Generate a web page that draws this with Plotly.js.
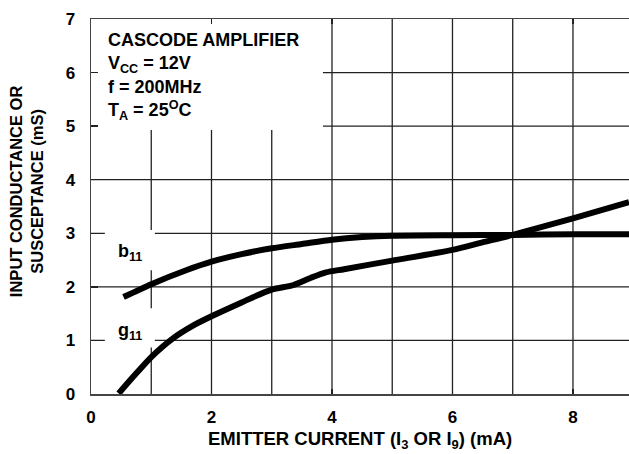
<!DOCTYPE html>
<html>
<head>
<meta charset="utf-8">
<script src="https://cdn.plot.ly/plotly-3.0.1.min.js"></script>
<style>html,body{margin:0;padding:0;background:#fff;}#chart{width:629px;height:454px;}</style>
</head>
<body>
<div id="chart"></div>
<script>
// Data
var b11X = [0.54, 1.0, 1.58, 2.0, 2.5, 3.0, 3.5, 4.0, 4.5, 5.0, 6.0, 7.0, 8.0, 8.93];
var b11Y = [1.81, 2.05, 2.31, 2.47, 2.61, 2.72, 2.80, 2.88, 2.93, 2.955, 2.965, 2.97, 2.98, 2.98];
var g11X = [0.46, 0.7, 1.0, 1.35, 1.7, 2.0, 2.5, 3.0, 3.35, 3.65, 3.9, 4.2, 5.0, 6.0, 6.5, 7.0, 8.0, 8.93];
var g11Y = [0.01, 0.32, 0.69, 1.03, 1.28, 1.45, 1.71, 1.95, 2.03, 2.17, 2.27, 2.33, 2.49, 2.69, 2.83, 2.97, 3.28, 3.58];
var xTicks = [0, 2, 4, 6, 8];
var yTicks = [0, 1, 2, 3, 4, 5, 6, 7];

var FONT = "Liberation Sans, Arial, Helvetica, sans-serif";
var lineStyle = {color: '#000', width: 6, shape: 'spline', smoothing: 0.7};

var traces = [
  {x: b11X, y: b11Y, mode: 'lines', line: lineStyle, name: 'b11', hoverinfo: 'skip'},
  {x: g11X, y: g11Y, mode: 'lines', line: lineStyle, name: 'g11', hoverinfo: 'skip'}
];

var layout = {
  width: 629, height: 454,
  margin: {l: 91, r: 0, t: 19, b: 60},
  paper_bgcolor: '#fff', plot_bgcolor: '#fff',
  showlegend: false,
  font: {family: FONT, color: '#000'},
  xaxis: {
    range: [0, 8.93], tickvals: xTicks, ticktext: xTicks.map(String),
    showgrid: false, zeroline: false,
    showline: true, linecolor: '#444', linewidth: 1.5, mirror: 'ticks',
    ticks: 'inside', ticklen: 5, tickcolor: '#222', tickwidth: 1.3,
    tickfont: {family: FONT, size: 17, weight: 'bold', color: '#000'},
    ticklabelstandoff: 7, fixedrange: true
  },
  yaxis: {
    range: [0, 7], tickvals: yTicks, ticktext: yTicks.map(String),
    showgrid: false, zeroline: false,
    showline: true, linecolor: '#444', linewidth: 1.5,
    ticks: 'inside', ticklen: 7, tickcolor: '#222', tickwidth: 1.3,
    tickfont: {family: FONT, size: 17, weight: 'bold', color: '#000'},
    ticklabelstandoff: 11, fixedrange: true
  },
  shapes: [],
  annotations: [
    {xref: 'x', yref: 'y', x: 0.25, y: 6.83, xanchor: 'left', yanchor: 'top', align: 'left', showarrow: false,
     text: 'CASCODE AMPLIFIER<br>V<sub>CC</sub> = 12V<br>f = 200MHz<br>T<sub>A</sub> = 25<sup>O</sup>C',
     font: {family: FONT, size: 18, weight: 'bold', color: '#000'}},
    {xref: 'x', yref: 'y', x: 0.65, y: 2.65, xanchor: 'center', yanchor: 'middle', showarrow: false,
     text: 'b<sub>11</sub>', font: {family: FONT, size: 18, weight: 'bold', color: '#000'}},
    {xref: 'x', yref: 'y', x: 0.65, y: 1.17, xanchor: 'center', yanchor: 'middle', showarrow: false,
     text: 'g<sub>11</sub>', font: {family: FONT, size: 18, weight: 'bold', color: '#000'}},
    {xref: 'paper', yref: 'paper', x: 0.5, y: 0, yshift: -46, xanchor: 'center', yanchor: 'middle', showarrow: false,
     text: 'EMITTER CURRENT (I<sub>3</sub> OR I<sub>9</sub>) (mA)', font: {family: FONT, size: 18.5, weight: 'bold', color: '#000'}},
    {xref: 'paper', yref: 'paper', x: 0, y: 0.541, xshift: -65, xanchor: 'center', yanchor: 'middle', showarrow: false,
     textangle: -90, text: 'INPUT CONDUCTANCE OR<br>SUSCEPTANCE (mS)', font: {family: FONT, size: 16.5, weight: 'bold', color: '#000'}}
  ]
};

// grid lines drawn on the data scale, with white boxes masking them behind labels
var gridColor = '#222';
for (var gx = 1; gx <= 8; gx++) {
  layout.shapes.push({type: 'line', xref: 'x', yref: 'y', x0: gx, x1: gx, y0: 0, y1: 7, layer: 'below', line: {color: gridColor, width: 1.3}});
}
for (var gy = 1; gy <= 6; gy++) {
  layout.shapes.push({type: 'line', xref: 'x', yref: 'y', x0: 0, x1: 8.93, y0: gy, y1: gy, layer: 'below', line: {color: gridColor, width: 1.3}});
}
var masks = [[0, 3.85, 4.93, 7], [0.23, 1.06, 2.31, 3.06], [0.23, 1.06, 0.87, 1.6]];
masks.forEach(function (m) {
  layout.shapes.push({type: 'rect', xref: 'x', yref: 'y', x0: m[0], x1: m[1], y0: m[2], y1: m[3], layer: 'below', fillcolor: '#fff', line: {width: 0}});
});

Plotly.newPlot('chart', traces, layout, {displayModeBar: false, staticPlot: true});
</script>
</body>
</html>
